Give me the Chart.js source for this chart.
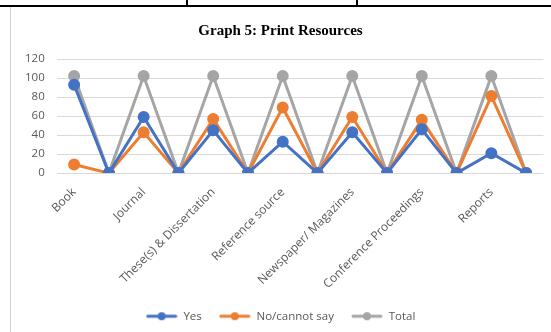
<!DOCTYPE html>
<html>
<head>
<meta charset="utf-8">
<script src="https://cdn.jsdelivr.net/npm/chart.js@4.4.1/dist/chart.umd.min.js"></script>
<style>
  html, body { margin: 0; padding: 0; background: #fff; }
  body { width: 551px; height: 332px; position: relative; overflow: hidden; }
  .rule-top { position: absolute; left: 0; top: 5px; width: 551px; height: 2px; background: #000; }
  .rule-v { position: absolute; top: 0; width: 2px; height: 7px; background: #000; }
  .frame-left { position: absolute; left: 10px; top: 7px; width: 1px; height: 325px; background: #d0d0d0; }
  #wrap { position: absolute; left: 11px; top: 8px; width: 540px; height: 324px; }
</style>
</head>
<body>
<div class="rule-top"></div>
<div class="rule-v" style="left:186px"></div>
<div class="rule-v" style="left:356px"></div>
<div class="frame-left"></div>
<div id="wrap"><canvas id="chart"></canvas></div>
<script>
// Categories alternate with unlabeled gaps, as in the source sheet layout
const categories = [
  'Book', '', 'Journal', '', 'These(s) & Dissertation', '', 'Reference source', '',
  'Newspaper/ Magazines', '', 'Conference Proceedings', '', 'Reports', ''
];
const yesValues   = [93, 0, 59, 0, 45, 0, 33, 0, 43, 0, 46, 0, 21, 0];
const noValues    = [ 9, 0, 43, 0, 57, 0, 69, 0, 59, 0, 56, 0, 81, 0];
const totalValues = [102, 0, 102, 0, 102, 0, 102, 0, 102, 0, 102, 0, 102, 0];
const yTicks = [0, 20, 40, 60, 80, 100, 120];

const BLUE = '#4472C4', ORANGE = '#ED7D31', GREY = '#A5A5A5';
const TEXT = '#595959';

// Legend swatch: short line with a dot in the middle
function swatch(color) {
  const c = document.createElement('canvas');
  c.width = 32; c.height = 10;
  const g = c.getContext('2d');
  g.strokeStyle = color; g.lineWidth = 3; g.lineCap = 'round';
  g.beginPath(); g.moveTo(2, 5); g.lineTo(30, 5); g.stroke();
  g.fillStyle = color;
  g.beginPath(); g.arc(16, 5, 4, 0, Math.PI * 2); g.fill();
  return c;
}

function series(label, data, color) {
  return {
    label, data,
    borderColor: color, backgroundColor: color,
    borderWidth: 3, pointRadius: 4.5, pointHoverRadius: 4.5,
    pointBackgroundColor: color, pointBorderColor: color,
    tension: 0, fill: false
  };
}

new Chart(document.getElementById('chart'), {
  type: 'line',
  data: {
    labels: categories,
    datasets: [
      series('Yes', yesValues, BLUE),
      series('No/cannot say', noValues, ORANGE),
      series('Total', totalValues, GREY)
    ]
  },
  options: {
    responsive: true,
    maintainAspectRatio: false,
    animation: false,
    layout: { padding: { left: 2, right: 3, top: 0, bottom: 0 } },
    plugins: {
      tooltip: { enabled: false },
      title: {
        display: true,
        text: 'Graph 5: Print Resources',
        color: '#000',
        font: { family: 'Liberation Serif', size: 15, weight: 'bold' },
        padding: { top: 14, bottom: 19 }
      },
      legend: {
        position: 'bottom',
        labels: {
          color: TEXT,
          font: { family: 'Open Sans', size: 11.5 },
          usePointStyle: true,
          pointStyleWidth: 32,
          padding: 17,
          generateLabels(chart) {
            return chart.data.datasets.map((ds, i) => ({
              text: ds.label,
              fontColor: TEXT,
              pointStyle: swatch(ds.borderColor),
              strokeStyle: 'rgba(0,0,0,0)',
              fillStyle: 'rgba(0,0,0,0)',
              lineWidth: 0,
              hidden: !chart.isDatasetVisible(i),
              datasetIndex: i
            }));
          }
        }
      }
    },
    scales: {
      x: {
        offset: true,
        grid: { display: false },
        border: { display: false },
        afterFit(axis) { axis.height -= 2; },
        ticks: {
          autoSkip: false,
          maxRotation: 45, minRotation: 45,
          color: TEXT,
          font: { family: 'Open Sans', size: 12 },
          padding: 4
        }
      },
      y: {
        min: 0, max: 120,
        afterBuildTicks(axis) { axis.ticks = yTicks.map(v => ({ value: v })); },
        grid: { color: '#D9D9D9', lineWidth: 1, drawTicks: false },
        border: { display: false },
        ticks: {
          color: TEXT,
          font: { family: 'Open Sans', size: 11.5 },
          padding: 12
        }
      }
    }
  }
});
</script>
</body>
</html>
